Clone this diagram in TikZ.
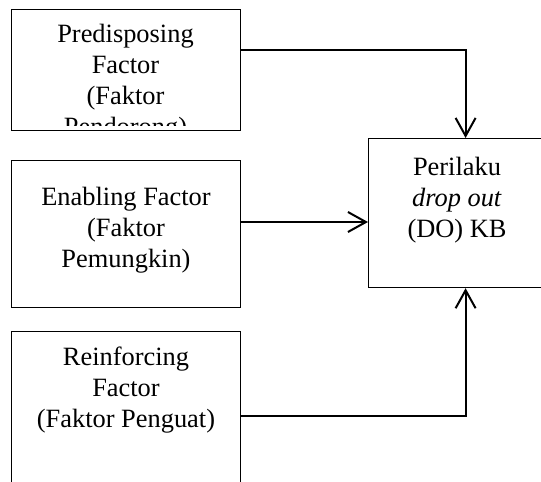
\documentclass[tikz,border=0pt]{standalone}
\usepackage{fontspec}
\setmainfont{Liberation Serif}
\usetikzlibrary{arrows.meta}

\begin{document}
\begin{tikzpicture}[x=0.5pt, y=-0.5pt, every node/.style={font=\fontsize{13.2}{15.4}\selectfont}]
    \tikzset{box/.style={draw, line width=0.6pt, inner sep=0pt, anchor=north west, minimum width=114.5pt}}
    \tikzset{txt/.style={align=center, anchor=base, inner sep=0pt}}
    \tikzset{conn/.style={line width=1pt, -{Straight Barb[length=9pt, width=10pt]}}}

    \useasboundingbox (0,0) rectangle (541,482);
    \clip (0,0) rectangle (541,482);

    \node[box, minimum height=60.5pt] (pre) at (11,9) {};
    \node[box, minimum height=73.5pt] (ena) at (11,160) {};
    \node[box, minimum height=90pt] (rei) at (11,331) {};
    \node[box, minimum width=97pt, minimum height=74.5pt] (per) at (368,138) {};

    % base anchor sits on the last line
    \begin{scope}
        \clip (11,9) rectangle (240,125);
        \node[txt] (preT) at (125.5,135) {Predisposing\\Factor\\(Faktor\\Pendorong)};
    \end{scope}
    \node[txt] (enaT) at (126,267) {Enabling Factor\\(Faktor\\Pemungkin)};
    \node[txt] (reiT) at (126,427) {Reinforcing\\Factor\\(Faktor Penguat)};
    \node[txt] (perT) at (457,237) {Perilaku\\\textit{drop out}\\(DO) KB};

    \coordinate (p1) at ([yshift=-20.5pt]pre.north east);
    \coordinate (e1) at ([yshift=-31pt]ena.north east);
    \coordinate (r1) at ([yshift=-42.5pt]rei.north east);

    \draw[conn] (p1) -| (per.north);
    \draw[conn] (e1) -- (e1 -| per.west);
    \draw[conn] (r1) -| (per.south);
\end{tikzpicture}
\end{document}
